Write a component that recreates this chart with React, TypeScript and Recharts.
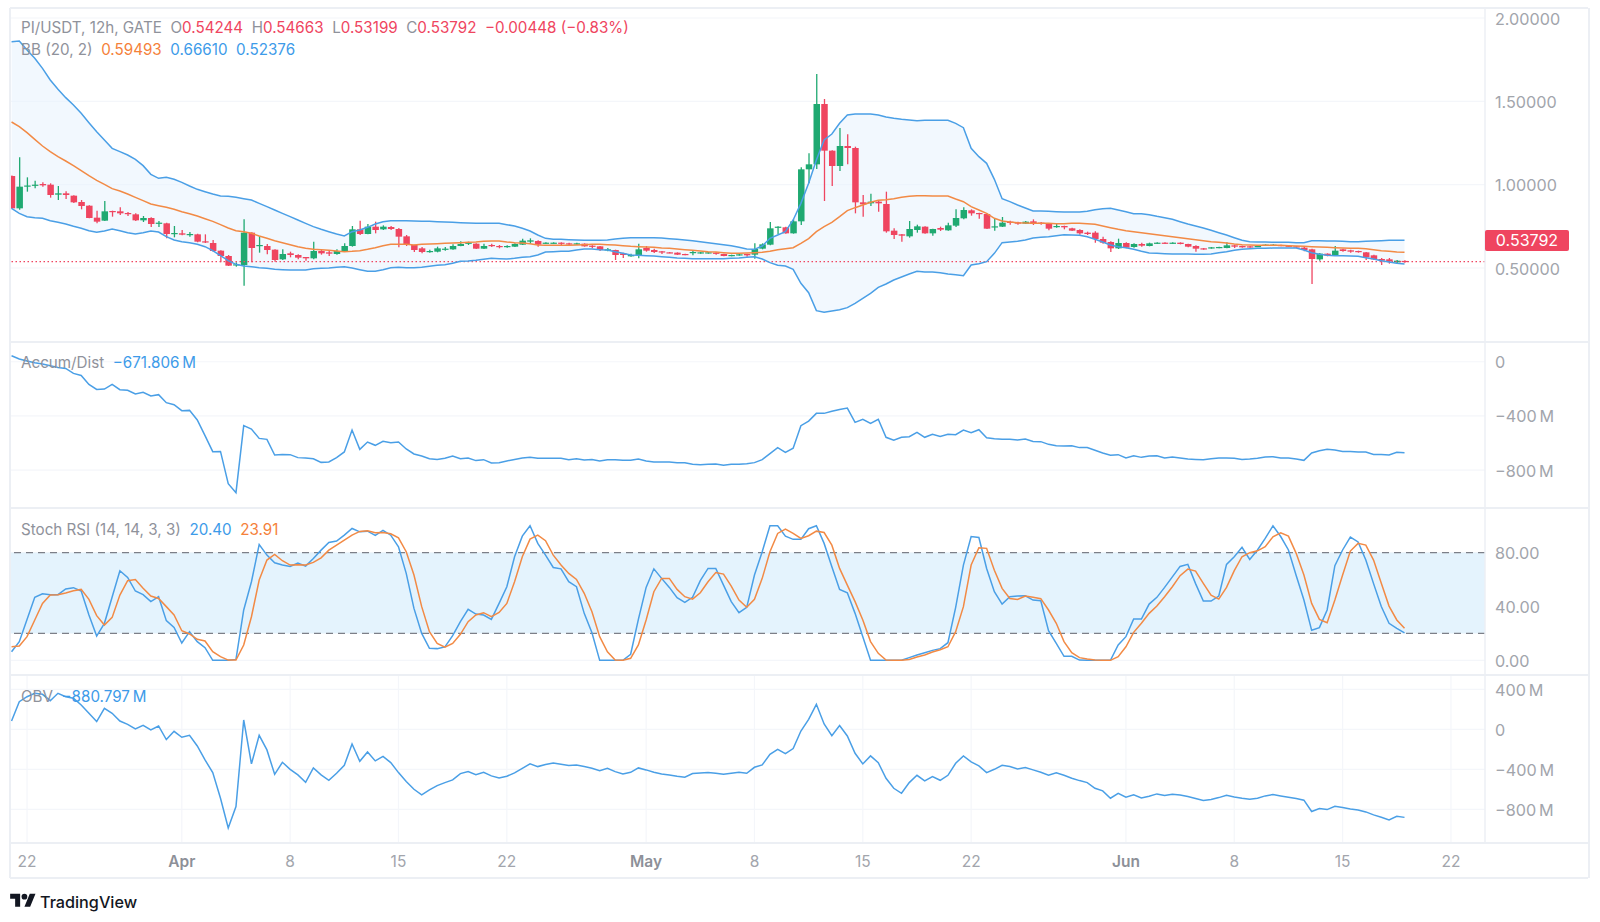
import React from "react";
import {
  ComposedChart, Line, Area, Bar, XAxis, YAxis, CartesianGrid, ReferenceLine, ReferenceArea,
} from "recharts";

const opens = [
  1.052,.858,.99,.994,1.004,1.0,.94,.948,.934,.896,
  .874,.802,.784,.842,.84,.83,.822,.786,.8,.766,
  .768,.704,.708,.7,.702,.66,.65,.604,.572,.516,
  .518,.712,.632,.632,.61,.552,.588,.578,.566,.558,
  .602,.594,.584,.602,.632,.732,.704,.748,.732,.746,
  .734,.69,.638,.618,.596,.598,.612,.612,.632,.648,
  .646,.616,.638,.632,.626,.628,.64,.658,.662,.646,
  .648,.652,.648,.642,.646,.634,.63,.606,.608,.588,
  .57,.576,.62,.608,.6,.594,.592,.584,.59,.588,
  .588,.592,.584,.572,.576,.584,.58,.616,.64,.742,
  .744,.708,.78,1.092,1.122,1.484,1.204,1.112,1.232,1.22,
  .894,.888,.898,.884,.724,.702,.69,.728,.748,.708,
  .74,.726,.754,.798,.846,.83,.824,.744,.748,.778,
  .774,.766,.78,.772,.766,.748,.752,.738,.728,.712,
  .712,.674,.656,.618,.65,.626,.644,.632,.648,.652,
  .648,.652,.644,.632,.618,.618,.62,.62,.636,.632,
  .63,.628,.634,.634,.638,.634,.63,.622,.612,.552,
  .586,.578,.612,.606,.602,.594,.576,.554,.552,.534,.54244,
];
const closes = [
  .858,.988,.995,1.0,.996,.938,.948,.938,.894,.872,
  .8,.778,.84,.838,.828,.824,.786,.8,.764,.772,
  .704,.71,.7,.704,.658,.654,.602,.572,.514,.522,
  .712,.62,.638,.608,.548,.584,.578,.562,.558,.602,
  .588,.586,.602,.632,.732,.704,.748,.728,.748,.734,
  .688,.638,.608,.596,.602,.618,.616,.632,.644,.652,
  .616,.632,.632,.626,.632,.644,.664,.666,.64,.652,
  .652,.646,.644,.648,.63,.628,.608,.612,.578,.578,
  .578,.612,.604,.596,.594,.59,.58,.578,.596,.594,
  .594,.586,.572,.578,.582,.576,.614,.642,.738,.748,
  .708,.78,1.092,1.122,1.484,1.204,1.112,1.232,1.22,.894,
  .882,.898,.888,.72,.698,.694,.734,.75,.708,.734,
  .73,.756,.8,.848,.828,.824,.736,.75,.772,.77,
  .766,.778,.764,.764,.736,.752,.744,.724,.708,.704,
  .674,.652,.618,.65,.622,.644,.634,.648,.652,.646,
  .652,.644,.628,.616,.612,.624,.626,.636,.628,.624,
  .624,.632,.64,.64,.632,.628,.624,.608,.554,.586,
  .574,.604,.602,.598,.596,.564,.552,.544,.54,.544,.53792,
];
const highs = [
  1.055,1.164,1.044,1.024,1.014,1.008,.992,.96,.936,.908,
  .876,.844,.902,.844,.864,.836,.828,.812,.804,.782,
  .772,.752,.728,.716,.706,.702,.668,.606,.578,.534,
  .792,.714,.692,.644,.612,.612,.598,.582,.566,.658,
  .608,.604,.612,.648,.752,.784,.764,.778,.756,.752,
  .74,.698,.64,.626,.61,.628,.626,.642,.66,.658,
  .648,.646,.646,.638,.636,.648,.676,.678,.666,.654,
  .654,.654,.652,.652,.648,.636,.632,.62,.61,.592,
  .586,.646,.632,.616,.602,.596,.594,.586,.608,.596,
  .596,.594,.586,.58,.584,.586,.648,.648,.776,.75,
  .748,.792,1.104,1.188,1.664,1.514,1.206,1.34,1.302,1.228,
  .938,.946,.904,.958,.738,.704,.782,.76,.75,.736,
  .748,.772,.852,.864,.852,.832,.828,.8,.806,.784,
  .778,.782,.792,.776,.768,.766,.754,.742,.732,.718,
  .72,.688,.66,.676,.654,.648,.652,.652,.654,.654,
  .654,.654,.646,.636,.62,.626,.628,.654,.64,.634,
  .632,.634,.642,.642,.64,.636,.632,.63,.616,.59,
  .588,.632,.616,.61,.604,.596,.58,.56,.56,.548,.54663,
];
const lows = [
  .855,.85,.958,.978,.988,.922,.908,.914,.89,.852,
  .798,.768,.782,.808,.818,.812,.782,.776,.746,.746,
  .678,.684,.696,.688,.654,.65,.598,.534,.512,.508,
  .394,.534,.592,.582,.538,.548,.564,.552,.544,.552,
  .58,.572,.58,.598,.628,.698,.702,.708,.728,.728,
  .624,.632,.596,.588,.592,.594,.604,.61,.63,.638,
  .614,.614,.626,.618,.622,.626,.638,.644,.628,.644,
  .646,.636,.638,.64,.628,.618,.602,.6,.548,.56,
  .568,.558,.598,.59,.584,.588,.578,.576,.576,.586,
  .586,.58,.57,.57,.574,.568,.556,.612,.636,.704,
  .706,.706,.758,1.008,1.094,.902,.992,1.082,1.122,.828,
  .808,.872,.838,.712,.674,.658,.682,.712,.706,.694,
  .722,.724,.746,.792,.814,.796,.734,.724,.746,.76,
  .76,.764,.758,.76,.726,.742,.732,.722,.7,.698,
  .652,.646,.596,.614,.618,.622,.628,.63,.644,.644,
  .646,.642,.624,.598,.61,.616,.618,.618,.62,.622,
  .622,.626,.632,.632,.63,.626,.622,.6,.404,.544,
  .57,.576,.598,.592,.592,.548,.548,.518,.526,.53,.53199,
];
const bbUpper = [
  1.858,1.862,1.808,1.758,1.698,1.628,1.572,1.522,1.478,1.428,
  1.372,1.318,1.268,1.218,1.198,1.178,1.152,1.114,1.062,1.038,
  1.044,1.032,1.014,.992,.972,.958,.944,.932,.93,.924,
  .916,.908,.888,.868,.848,.828,.808,.788,.768,.748,
  .732,.718,.704,.692,.718,.728,.744,.764,.778,.784,
  .784,.784,.782,.78,.78,.778,.776,.774,.772,.77,
  .768,.768,.768,.768,.76,.752,.738,.722,.698,.678,
  .672,.672,.67,.668,.666,.666,.666,.668,.674,.678,
  .682,.682,.682,.682,.68,.676,.672,.668,.664,.658,
  .652,.646,.64,.634,.624,.614,.612,.632,.678,.698,
  .718,.788,.888,1.008,1.148,1.268,1.304,1.368,1.418,1.424,
  1.424,1.424,1.418,1.406,1.398,1.392,1.388,1.384,1.386,1.386,
  1.386,1.386,1.368,1.342,1.218,1.168,1.128,1.032,.916,.898,
  .878,.86,.842,.842,.84,.838,.836,.836,.836,.84,
  .85,.856,.858,.848,.838,.826,.826,.82,.81,.802,
  .792,.778,.764,.752,.74,.726,.712,.698,.682,.666,
  .658,.656,.656,.654,.654,.654,.652,.652,.664,.664,
  .662,.662,.66,.658,.658,.66,.662,.664,.666,.666,.6661,
];
const bbBasis = [
  1.376,1.348,1.312,1.272,1.232,1.198,1.168,1.142,1.114,1.084,
  1.054,1.026,1.002,.976,.962,.944,.924,.904,.884,.874,
  .864,.852,.838,.826,.812,.796,.78,.76,.74,.724,
  .718,.708,.692,.678,.664,.652,.64,.628,.618,.612,
  .61,.606,.602,.598,.6,.604,.612,.622,.634,.642,
  .642,.642,.638,.642,.644,.646,.648,.65,.652,.654,
  .656,.66,.662,.662,.656,.652,.65,.646,.638,.636,
  .636,.636,.636,.638,.64,.642,.642,.64,.638,.634,
  .63,.628,.626,.624,.62,.618,.614,.61,.606,.602,
  .598,.596,.592,.588,.588,.59,.592,.594,.6,.61,
  .616,.622,.648,.676,.718,.748,.774,.808,.844,.862,
  .878,.894,.906,.91,.916,.924,.93,.934,.934,.932,
  .932,.932,.914,.898,.868,.848,.828,.798,.782,.776,
  .772,.77,.768,.768,.768,.766,.766,.768,.768,.766,
  .762,.752,.742,.732,.724,.718,.712,.706,.7,.694,
  .688,.682,.676,.67,.664,.658,.654,.65,.644,.64,
  .638,.636,.636,.636,.636,.634,.632,.63,.628,.626,
  .624,.622,.62,.618,.618,.616,.61,.604,.6,.596,.59493,
];
const bbLower = [
  .858,.828,.808,.802,.798,.784,.774,.764,.75,.738,
  .724,.714,.722,.734,.724,.712,.704,.712,.722,.716,
  .688,.668,.658,.652,.642,.628,.604,.574,.544,.522,
  .512,.508,.502,.498,.492,.49,.488,.488,.488,.496,
  .498,.5,.504,.508,.5,.49,.48,.48,.49,.502,
  .504,.502,.502,.504,.51,.516,.52,.528,.54,.542,
  .546,.552,.558,.556,.554,.558,.564,.568,.578,.596,
  .598,.6,.6,.608,.614,.614,.61,.608,.598,.588,
  .578,.576,.574,.572,.568,.564,.56,.558,.556,.556,
  .556,.556,.556,.558,.56,.564,.568,.554,.532,.516,
  .512,.492,.408,.352,.244,.234,.242,.25,.262,.288,
  .318,.348,.384,.404,.428,.446,.464,.48,.476,.476,
  .472,.464,.46,.454,.518,.526,.538,.588,.652,.656,
  .66,.668,.68,.684,.688,.694,.7,.698,.696,.688,
  .672,.656,.638,.628,.622,.612,.6,.59,.588,.586,
  .584,.584,.584,.582,.582,.584,.592,.598,.606,.612,
  .616,.618,.618,.62,.62,.62,.62,.608,.592,.582,
  .576,.574,.574,.572,.57,.562,.554,.544,.536,.528,.52376,
];
const accumDist = [
  44,20,5,-7,-17,-29,-42,-49,-86,-101,
  -167,-204,-202,-167,-206,-211,-238,-226,-253,-243,
  -302,-317,-361,-359,-430,-546,-664,-662,-900,-967,
  -472,-497,-566,-573,-689,-684,-686,-708,-711,-716,
  -743,-740,-708,-666,-504,-647,-593,-617,-588,-598,
  -593,-644,-681,-696,-716,-721,-713,-696,-716,-711,
  -730,-723,-748,-745,-733,-721,-711,-706,-713,-713,
  -713,-713,-723,-716,-725,-721,-733,-723,-723,-728,
  -728,-718,-733,-740,-740,-740,-745,-745,-757,-760,
  -757,-755,-765,-757,-757,-753,-745,-723,-679,-634,
  -669,-639,-472,-438,-381,-381,-366,-352,-342,-448,
  -425,-455,-425,-558,-580,-558,-553,-521,-558,-536,
  -551,-536,-539,-504,-524,-502,-561,-568,-573,-573,
  -578,-571,-588,-590,-610,-620,-622,-620,-634,-634,
  -654,-674,-691,-686,-711,-694,-706,-696,-694,-711,
  -703,-711,-718,-721,-723,-716,-711,-711,-713,-721,
  -718,-713,-703,-701,-711,-711,-718,-728,-674,-657,
  -647,-652,-662,-662,-666,-666,-684,-684,-689,-669,-671.806,
];
const stochK = [
  6.4,13.9,30.4,46.8,49.5,48.8,48.8,53,54,51.5,
  33.7,18,27.5,47,66.6,61.6,51.5,48.8,43.6,47.3,
  29.5,24.5,12.9,21.3,13.9,9.4,0,0,0,.7,
  37.4,58.4,86.1,78.2,72.5,70.8,69.8,72.3,70,75.7,
  81.9,87.6,88.6,93,98,95.5,96,92.8,96.5,93,
  84.4,64.6,38.6,20,8.9,8.7,10,18.3,28.7,37.9,
  34.4,33.7,30.4,42.3,54.7,77,92.3,100,86.9,78.2,
  69,68,58.4,54.7,34.9,20.5,0,0,0,0,
  4.5,30.4,54.2,68,60.9,54.2,46.5,43,46.8,59.2,
  68.3,68.3,55.9,43.6,35.4,39.4,63.4,80.7,100,100,
  92.3,89.9,89.9,97.8,100,86.9,69.6,52.7,50.2,34.9,
  17.6,0,0,0,0,0,2,4,5.7,7.4,
  8.7,13.1,39.4,70.8,92,91.3,68.3,51,41.8,47.3,
  47.8,48,44.8,44.3,22,12.6,3,3,.2,0,
  0,0,0,11.4,17.6,30.7,30.7,41.8,46.8,54.2,
  62,69.8,71.3,57,44,44,47.8,71.3,77,84,
  75,82,90.6,100,92,82,63,44.8,22.3,24.3,
  37.4,70.3,82,91.6,88,74.5,57,40,27.5,23.8,20.4,
];
const stochD = [
  10.1,10.6,17.6,30,42.3,48.5,48.8,50,51.7,52.7,
  45.3,33.2,26.2,31.9,48.5,59.2,60.1,53.5,47.8,46,
  39.9,33.7,22,19.6,15.6,14.4,6.4,2.7,.2,.2,
  11.4,32.4,59.7,74.5,78.7,74,70.8,71,70.8,72.8,
  76.2,81.9,85.6,89.4,93,95.8,96.3,94.8,95,94,
  91,80.7,63.4,39.9,21.3,12.6,9.7,12.6,19.3,28.7,
  33.7,35.4,32.4,35.6,42.3,58.4,77,90.1,93,88.9,
  78.2,70.8,64.6,60.1,49.8,36.1,17.6,6.4,.2,0,
  1.5,11.4,30,51,60.9,60.9,52.7,47.3,45.5,50.2,
  58.4,65.3,64.1,55.2,44.8,39.4,45.3,60.9,80.7,94.3,
  97.5,94.3,90.6,92.6,96,95,85.6,68.3,55.9,43.6,
  30,13.9,5.2,.2,0,0,.7,2.5,4,6.2,
  7.9,10.1,21.3,39.9,70.8,83.7,83.2,67,53.5,46,
  45.3,47.8,46.8,45.8,37.4,27.5,13.9,5.7,2,1,
  .2,0,0,2.7,10.1,20.8,27.5,34.9,40.3,47.3,
  54.7,62.9,67.8,66.3,57.2,48.5,45.5,54.2,66.6,77,
  80,81.4,84.4,91.8,94.8,92.3,79.5,63.4,42.3,30.4,
  28,44.8,63.4,81.2,86.9,85.6,74.5,57.2,40.3,30,23.91,
];
const obv = [
  83,276,326,360,350,286,360,326,310,243,
  160,77,210,160,83,50,3,40,-7,33,
  -103,-20,-80,-60,-167,-306,-433,-689,-986,-773,
  93,-346,-60,-206,-450,-330,-400,-456,-530,-386,
  -456,-510,-440,-360,-147,-320,-226,-316,-270,-333,
  -433,-523,-600,-656,-606,-563,-533,-506,-443,-423,
  -453,-430,-466,-486,-470,-436,-390,-346,-373,-353,
  -336,-350,-363,-356,-373,-390,-413,-390,-423,-446,
  -430,-386,-406,-430,-446,-456,-470,-480,-443,-436,
  -433,-440,-450,-440,-430,-440,-380,-356,-250,-200,
  -243,-193,-17,100,250,53,-63,37,-67,-240,
  -346,-266,-333,-490,-590,-640,-533,-460,-516,-473,
  -510,-460,-340,-266,-326,-366,-433,-400,-360,-373,
  -396,-383,-406,-430,-460,-436,-460,-490,-513,-533,
  -590,-616,-689,-640,-679,-656,-686,-669,-646,-663,
  -649,-656,-673,-693,-713,-703,-683,-659,-676,-689,
  -699,-689,-666,-653,-666,-679,-693,-709,-822,-793,
  -803,-769,-783,-796,-806,-826,-856,-879,-906,-869,-880.797,
];

const xTickIndex = [2, 22, 36, 50, 64, 82, 96, 110, 124, 144, 158, 172, 186];
const xTickLabels = ["22", "Apr", "8", "15", "22", "May", "8", "15", "22", "Jun", "8", "15", "22"];
const boldMonths = ["Apr", "May", "Jun"];
const priceTicks = [0.5, 1, 1.5, 2];
const adTicks = [0, -400, -800];
const stochTicks = [0, 40, 80];
const obvTicks = [400, 0, -400, -800];

const FONT = "Inter, 'Noto Sans', sans-serif";
const UP = "#1fa971";
const DOWN = "#ef4560";
const BLUE = "#4a9fe6";
const ORANGE = "#f28a45";
const GREY = "#8f929b";
const GRID = "#f4f6fa";
const FRAME = "#eceff4";
const LEFT = 10;
const PLOT_W = 1475;
const AXIS_W = 105;
const CHART_W = PLOT_W + AXIS_W;
const X_DOMAIN: [number, number] = [-0.2, 190.4];

const rows = opens.map((o, i) => ({
  i,
  o,
  c: closes[i],
  h: highs[i],
  l: lows[i],
  range: [lows[i], highs[i]],
  up: bbUpper[i],
  mid: bbBasis[i],
  lo: bbLower[i],
  band: [bbLower[i], bbUpper[i]],
  ad: accumDist[i],
  k: stochK[i],
  d: stochD[i],
  obv: obv[i],
}));

function Candle(props: any) {
  const { x, y, width, height, payload } = props;
  if (!payload) return null;
  const { o, c, h, l } = payload;
  const top = Math.min(y, y + height);
  const ph = Math.abs(height);
  const toY = (v: number) => top + ((h - v) / (h - l)) * ph;
  const color = c >= o ? UP : DOWN;
  const cx = x + width / 2;
  const yo = toY(Math.max(o, c));
  const yc = toY(Math.min(o, c));
  return (
    <g>
      <line x1={cx} x2={cx} y1={top} y2={top + ph} stroke={color} strokeWidth={1.3} />
      <rect x={x} y={yo} width={width} height={Math.max(yc - yo, 1.2)} fill={color} />
    </g>
  );
}

const MINUS = "\u2212";
const fmtM = (v: number) => (v === 0 ? "0" : (v < 0 ? MINUS : "") + Math.abs(v) + "\u2009M");

const TICK_FILL = "#a2a5ac";

function ValueTick(props: any) {
  const { x, y, payload, tickFormatter } = props;
  return (
    <text x={x} y={y} dy={6.5} textAnchor="start" fontFamily={FONT} fontSize={16.2} fill={TICK_FILL}>
      {tickFormatter(payload.value)}
    </text>
  );
}

function DateTick(props: any) {
  const { x, y, index } = props;
  const label = xTickLabels[index];
  const bold = boldMonths.includes(label);
  return (
    <text x={x} y={y} dy={16} textAnchor="middle" fontFamily={FONT} fontSize={15.5}
      fontWeight={bold ? 600 : 400} fill={bold ? "#8d9098" : TICK_FILL}>
      {label}
    </text>
  );
}

function Panel(props: {
  top: number; height: number; domain: [number, number]; ticks: number[];
  fmt: (v: number) => string; showX?: boolean; children: React.ReactNode;
}) {
  const { top, height, domain, ticks, fmt, showX, children } = props;
  return (
    <div style={{ position: "absolute", left: LEFT, top }}>
      <ComposedChart width={CHART_W} height={height} data={rows}
        margin={{ top: 0, right: 0, bottom: 0, left: 0 }}>
        <CartesianGrid stroke={GRID} strokeWidth={1.2}
          horizontalValues={ticks} verticalValues={xTickIndex} />
        <XAxis type="number" dataKey="i" domain={X_DOMAIN} allowDataOverflow
          ticks={xTickIndex} interval={0} hide={!showX} height={showX ? 35 : 0}
          axisLine={false} tickLine={false} tick={showX ? <DateTick /> : false} />
        <YAxis orientation="right" width={AXIS_W} type="number" domain={domain} allowDataOverflow
          ticks={ticks} interval={0} tickFormatter={fmt} tick={<ValueTick tickFormatter={fmt} />} tickLine={false}
          tickMargin={4} axisLine={{ stroke: FRAME, strokeWidth: 1.5 }} />
        {children}
      </ComposedChart>
    </div>
  );
}

function LegendRow(props: { top: number; items: [string, string][] }) {
  return (
    <div style={{
      position: "absolute", left: 21, top: props.top, fontFamily: FONT, fontSize: 15.2,
      lineHeight: "20px", whiteSpace: "nowrap", zIndex: 5,
    }}>
      {props.items.map(([t, c], k) => (
        <span key={k} style={{ color: c }}>{t}</span>
      ))}
    </div>
  );
}

const hLine = (top: number, key: string) => (
  <div key={key} style={{ position: "absolute", left: LEFT, top, width: 1578, height: 2, background: FRAME }} />
);

export default function App() {
  return (
    <div style={{ position: "absolute", left: 0, top: 0, width: 1600, height: 922, background: "#fff", overflow: "hidden" }}>
      <Panel top={8} height={334} domain={[0.056, 2.06]} ticks={priceTicks} fmt={(v) => v.toFixed(5)}>
        <Area dataKey="band" type="linear" stroke="none" fill="#e8f3fd" fillOpacity={0.55} isAnimationActive={false} />
        <ReferenceLine y={closes[closes.length - 1]} stroke="#ef4560" strokeDasharray="1.5 2.5" strokeWidth={1.2} />
        <Line dataKey="up" type="linear" stroke={BLUE} strokeWidth={1.5} dot={false} isAnimationActive={false} />
        <Line dataKey="lo" type="linear" stroke={BLUE} strokeWidth={1.5} dot={false} isAnimationActive={false} />
        <Line dataKey="mid" type="linear" stroke={ORANGE} strokeWidth={1.5} dot={false} isAnimationActive={false} />
        <Bar dataKey="range" barSize={6.5} shape={<Candle />} isAnimationActive={false} />
      </Panel>
      <Panel top={342} height={166} domain={[-1080, 146]} ticks={adTicks} fmt={fmtM}>
        <Line dataKey="ad" type="linear" stroke={BLUE} strokeWidth={1.5} dot={false} isAnimationActive={false} />
      </Panel>
      <Panel top={508} height={167} domain={[-10.9, 113.2]} ticks={stochTicks} fmt={(v) => v.toFixed(2)}>
        <ReferenceArea y1={20} y2={80} fill="#e3f2fd" fillOpacity={0.95} stroke="none" />
        <ReferenceLine y={80} stroke="#7c7f88" strokeDasharray="7 5" strokeWidth={1.3} />
        <ReferenceLine y={20} stroke="#7c7f88" strokeDasharray="7 5" strokeWidth={1.3} />
        <Line dataKey="k" type="linear" stroke={BLUE} strokeWidth={1.5} dot={false} isAnimationActive={false} />
        <Line dataKey="d" type="linear" stroke={ORANGE} strokeWidth={1.5} dot={false} isAnimationActive={false} />
      </Panel>
      <Panel top={675} height={203} domain={[-1137, 543]} ticks={obvTicks} fmt={fmtM} showX>
        <Line dataKey="obv" type="linear" stroke={BLUE} strokeWidth={1.5} dot={false} isAnimationActive={false} />
      </Panel>

      {hLine(7, "t")}{hLine(341, "a")}{hLine(507, "b")}{hLine(674, "c")}{hLine(842, "d")}{hLine(877, "e")}
      <div style={{ position: "absolute", left: 9, top: 8, width: 1.5, height: 870, background: FRAME }} />
      <div style={{ position: "absolute", left: 1588, top: 8, width: 1.5, height: 870, background: FRAME }} />

      <LegendRow top={18} items={[
        ["PI/USDT, 12h, GATE", GREY], ["\u00a0\u00a0O", GREY], ["0.54244", DOWN],
        ["\u00a0\u00a0H", GREY], ["0.54663", DOWN], ["\u00a0\u00a0L", GREY], ["0.53199", DOWN],
        ["\u00a0\u00a0C", GREY], ["0.53792", DOWN], ["\u00a0\u00a0\u22120.00448 (\u22120.83%)", DOWN],
      ]} />
      <LegendRow top={40} items={[
        ["BB (20, 2)", GREY], ["\u00a0\u00a00.59493", "#f5813a"], ["\u00a0\u00a00.66610", "#3d9be9"], ["\u00a0\u00a00.52376", "#3d9be9"],
      ]} />
      <LegendRow top={353} items={[["Accum/Dist", GREY], ["\u00a0\u00a0\u2212671.806\u2009M", "#3d9be9"]]} />
      <LegendRow top={520} items={[
        ["Stoch RSI (14, 14, 3, 3)", GREY], ["\u00a0\u00a020.40", "#3d9be9"], ["\u00a0\u00a023.91", "#f5813a"],
      ]} />
      <LegendRow top={687} items={[["OBV", GREY], ["\u00a0\u00a0\u2212880.797\u2009M", "#3d9be9"]]} />

      <div style={{
        position: "absolute", left: 1485, top: 230, width: 84, height: 21, background: DOWN, color: "#fff",
        fontFamily: FONT, fontSize: 16, lineHeight: "21px", textAlign: "center", borderRadius: 2, zIndex: 6,
      }}>0.53792</div>

      <svg style={{ position: "absolute", left: 10, top: 891 }} width={26} height={20} viewBox="0 0 36 28">
        <path d="M14 22H7V11H0V4h14v18zM28 22h-8l7.5-18h8L28 22z" fill="#131722" />
        <circle cx="20" cy="8" r="4" fill="#131722" />
      </svg>
      <div style={{
        position: "absolute", left: 40, top: 891, fontFamily: FONT, fontSize: 16.2, fontWeight: 500,
        color: "#131722", lineHeight: "22px",
      }}>TradingView</div>
    </div>
  );
}
